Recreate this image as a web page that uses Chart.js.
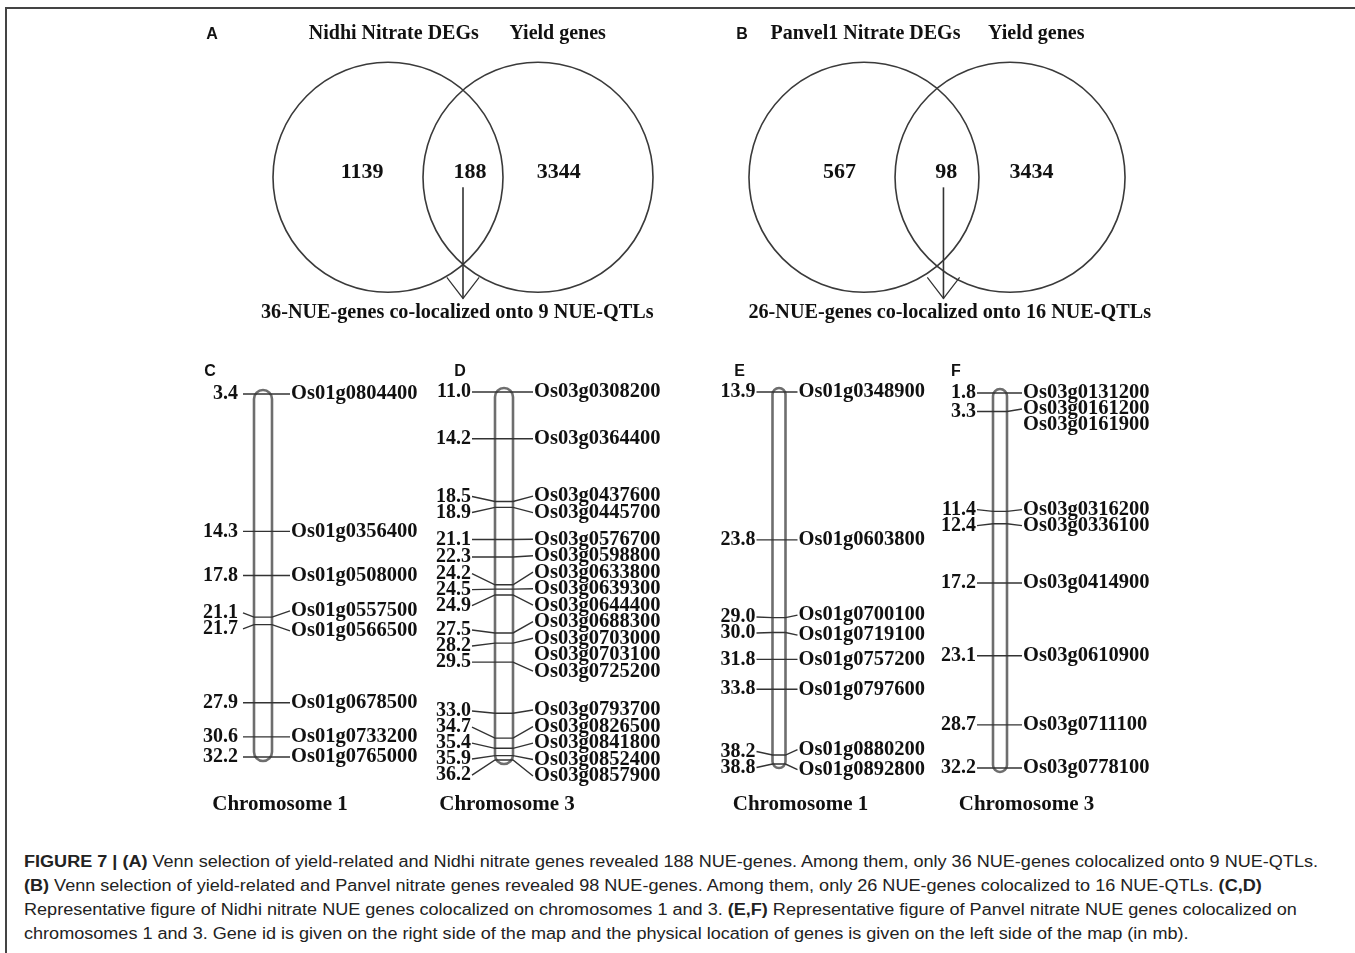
<!DOCTYPE html>
<html>
<head>
<meta charset="utf-8">
<script src="https://cdn.jsdelivr.net/npm/chart.js@4.4.0/dist/chart.umd.min.js"></script>
<style>
html, body { margin: 0; padding: 0; background: #fff; }
body { width: 1355px; height: 953px; position: relative; overflow: hidden; }
.frameTop { position: absolute; left: 5px; top: 7px; width: 1350px; height: 2px; background: #444; }
.frameLeft { position: absolute; left: 5px; top: 7px; width: 2px; height: 946px; background: #444; }
canvas { position: absolute; }
.caption { position: absolute; left: 24px; top: 850px; font-family: "Liberation Sans", Arial, sans-serif;
  font-size: 16px; line-height: 24px; color: #222; transform-origin: 0 0; }
.caption div { white-space: nowrap; }
.caption span { display: inline-block; }
</style>
</head>
<body>
<div class="frameTop"></div>
<div class="frameLeft"></div>

<canvas id="vennA" width="600" height="320" style="left:163px;top:20px"></canvas>
<canvas id="vennB" width="600" height="320" style="left:637px;top:20px"></canvas>
<canvas id="chrC" width="340" height="470" style="left:93px;top:355px"></canvas>
<canvas id="chrD" width="340" height="470" style="left:334px;top:355px"></canvas>
<canvas id="chrE" width="340" height="470" style="left:609px;top:355px"></canvas>
<canvas id="chrF" width="340" height="470" style="left:830px;top:355px"></canvas>

<div class="caption" id="cap">
<div><span id="l1"><b>FIGURE 7 | (A)</b> Venn selection of yield-related and Nidhi nitrate genes revealed 188 NUE-genes. Among them, only 36 NUE-genes colocalized onto 9 NUE-QTLs.</span></div>
<div><span><b>(B)</b> Venn selection of yield-related and Panvel nitrate genes revealed 98 NUE-genes. Among them, only 26 NUE-genes colocalized to 16 NUE-QTLs. <b>(C,D)</b></span></div>
<div><span>Representative figure of Nidhi nitrate NUE genes colocalized on chromosomes 1 and 3. <b>(E,F)</b> Representative figure of Panvel nitrate NUE genes colocalized on</span></div>
<div><span>chromosomes 1 and 3. Gene id is given on the right side of the map and the physical location of genes is given on the left side of the map (in mb).</span></div>
</div>

<script>
// Venn A / B
const setsA = ['Nidhi Nitrate DEGs', 'Yield genes']
const countsA = [1139, 188, 3344]
const resultA = '36-NUE-genes co-localized onto 9 NUE-QTLs'
const setsB = ['Panvel1 Nitrate DEGs', 'Yield genes']
const countsB = [567, 98, 3434]
const resultB = '26-NUE-genes co-localized onto 16 NUE-QTLs'

// chromosome maps, positions in mb
const posC = [3.4, 14.3, 17.8, 21.1, 21.7, 27.9, 30.6, 32.2]
const genesC = ['Os01g0804400', 'Os01g0356400', 'Os01g0508000', 'Os01g0557500', 'Os01g0566500', 'Os01g0678500', 'Os01g0733200', 'Os01g0765000']
const posD = [11.0, 14.2, 18.5, 18.9, 21.1, 22.3, 24.2, 24.5, 24.9, 27.5, 28.2, 28.2, 29.5, 33.0, 34.7, 35.4, 35.9, 36.2]
const genesD = ['Os03g0308200', 'Os03g0364400', 'Os03g0437600', 'Os03g0445700', 'Os03g0576700', 'Os03g0598800', 'Os03g0633800', 'Os03g0639300', 'Os03g0644400',
    'Os03g0688300', 'Os03g0703000', 'Os03g0703100', 'Os03g0725200', 'Os03g0793700', 'Os03g0826500', 'Os03g0841800', 'Os03g0852400', 'Os03g0857900']
const posE = [13.9, 23.8, 29.0, 30.0, 31.8, 33.8, 38.2, 38.8]
const genesE = ['Os01g0348900', 'Os01g0603800', 'Os01g0700100', 'Os01g0719100', 'Os01g0757200', 'Os01g0797600', 'Os01g0880200', 'Os01g0892800']
const posF = [1.8, 3.3, 3.3, 11.4, 12.4, 17.2, 23.1, 28.7, 32.2]
const genesF = ['Os03g0131200', 'Os03g0161200', 'Os03g0161900', 'Os03g0316200', 'Os03g0336100', 'Os03g0414900', 'Os03g0610900', 'Os03g0711100', 'Os03g0778100']

const SERIF = '"Liberation Serif", "Times New Roman", serif'
const SANS = '"Liberation Sans", Arial, sans-serif'
const INK = '#111'

// push labels apart (centred on their ticks), never above minY
function spread(ys, gap, minY) {
    let groups = []
    ys.forEach(y => {
        groups.push({ sum: y, n: 1, top: Math.max(minY, y) })
        while (groups.length > 1) {
            let b = groups[groups.length - 1]
            let a = groups[groups.length - 2]
            if (a.top + a.n * gap <= b.top) break
            a.sum += b.sum
            a.n += b.n
            a.top = Math.max(minY, a.sum / a.n - (a.n - 1) * gap / 2)
            groups.pop()
        }
    })
    let out = []
    groups.forEach(g => { for (let k = 0; k < g.n; k++) out.push(g.top + k * gap) })
    return out
}

function vennChart(id, sets, counts, result, L) {
    const vennText = {
        id: 'vennText',
        afterDatasetsDraw(chart) {
            const { ctx, scales: { x, y } } = chart
            ctx.save()
            ctx.fillStyle = INK
            ctx.textAlign = 'center'
            ctx.textBaseline = 'middle'
            ctx.font = 'bold 16px ' + SANS
            ctx.fillText(L.letter, x.getPixelForValue(L.letterX), y.getPixelForValue(L.headY))
            ctx.font = 'bold 20px ' + SERIF
            sets.forEach((s, i) => ctx.fillText(s, x.getPixelForValue(L.headX[i]), y.getPixelForValue(L.headY)))
            ctx.font = 'bold 22px ' + SERIF
            counts.forEach((c, i) => ctx.fillText(String(c), x.getPixelForValue(L.countX[i]), y.getPixelForValue(L.countY)))
            ctx.font = 'bold 20.2px ' + SERIF
            ctx.fillText(result, x.getPixelForValue(L.resultX), y.getPixelForValue(L.resultY))

            // arrow from the overlap down to the result
            let ax = x.getPixelForValue(L.arrowX)
            let tipY = y.getPixelForValue(-1.05)
            ctx.strokeStyle = '#333'
            ctx.lineWidth = 1.6
            ctx.beginPath()
            ctx.moveTo(ax, y.getPixelForValue(-0.087))
            ctx.lineTo(ax, tipY)
            ctx.stroke()
            ctx.lineWidth = 1.2
            ctx.beginPath()
            ctx.moveTo(x.getPixelForValue(L.arrowX - 0.14), y.getPixelForValue(-0.867))
            ctx.lineTo(ax, tipY)
            ctx.lineTo(x.getPixelForValue(L.arrowX + 0.14), y.getPixelForValue(-0.867))
            ctx.stroke()
            ctx.restore()
        }
    }
    return new Chart(document.getElementById(id), {
        type: 'bubble',
        data: {
            datasets: [{
                label: sets.join(' / '),
                data: [{ x: -L.sep, y: 0 }, { x: L.sep, y: 0 }],
                radius: 115,
                hoverRadius: 0,
                backgroundColor: 'rgba(0,0,0,0)',
                borderColor: '#3a3a3a',
                borderWidth: 1.6,
                clip: false
            }]
        },
        options: {
            responsive: false, animation: false, events: [], devicePixelRatio: 1,
            layout: { autoPadding: false, padding: 0 },
            scales: {
                x: { type: 'linear', min: -2.6, max: 2.6, display: false },
                y: { type: 'linear', min: -1.41, max: 1.363, display: false }
            },
            plugins: { legend: { display: false }, tooltip: { enabled: false } }
        },
        plugins: [vennText]
    })
}

vennChart('vennA', setsA, countsA, resultA, {
    letter: 'A', letterX: -2.175, sep: 0.65, headY: 1.239, headX: [-0.6, 0.82],
    countY: 0.043, countX: [-0.875, 0.06, 0.83], arrowX: 0, resultX: -0.05, resultY: -1.178
})
vennChart('vennB', setsB, countsB, resultB, {
    letter: 'B', letterX: -1.69, sep: 0.633, headY: 1.239, headX: [-0.62, 0.86],
    countY: 0.043, countX: [-0.845, 0.08, 0.82], arrowX: 0.056, resultX: 0.11, resultY: -1.178
})

function chromChart(id, letter, title, pos, genes, st) {
    const chromDraw = {
        id: 'chromDraw',
        afterDatasetsDraw(chart) {
            const { ctx, scales: { x, y } } = chart
            let cx = x.getPixelForValue(0)
            let bl = cx - st.half, br = cx + st.half
            let ticks = pos.map(p => y.getPixelForValue(p))
            let top = ticks[0] - 4, bot = ticks[ticks.length - 1] + 4

            ctx.save()
            // chromosome body
            ctx.beginPath()
            ctx.roundRect(bl, top, br - bl, bot - top, st.half)
            ctx.fillStyle = '#fff'
            ctx.fill()
            ctx.lineWidth = 2.6
            ctx.strokeStyle = '#6e6e6e'
            ctx.stroke()

            let uniq = [...new Set(pos)]
            let uy = uniq.map(p => y.getPixelForValue(p))
            let ly = spread(uy, 16, uy[0])
            let gy = spread(ticks, st.gap, ticks[0])

            ctx.strokeStyle = '#333'
            ctx.lineWidth = 1.4
            uniq.forEach((p, i) => {
                let g = pos.indexOf(p)
                ctx.beginPath()
                ctx.moveTo(cx + st.left, ly[i])
                ctx.lineTo(bl, uy[i])
                ctx.lineTo(br, uy[i])
                ctx.lineTo(cx + st.right, gy[g])
                ctx.stroke()
            })

            ctx.fillStyle = INK
            ctx.textBaseline = 'middle'
            ctx.font = 'bold 20px ' + SERIF
            ctx.textAlign = 'right'
            uniq.forEach((p, i) => ctx.fillText(p.toFixed(1), cx + st.left - st.numGap, ly[i]))
            ctx.font = 'bold 20.5px ' + SERIF
            ctx.textAlign = 'left'
            genes.forEach((gname, i) => ctx.fillText(gname, cx + st.right + 1, gy[i]))

            ctx.textAlign = 'center'
            ctx.font = 'bold 21px ' + SERIF
            ctx.fillText(title, cx + st.titleDx, 450)
            ctx.font = 'bold 16px ' + SANS
            ctx.fillText(letter, cx + st.letterDx, 17)
            ctx.restore()
        }
    }
    return new Chart(document.getElementById(id), {
        type: 'scatter',
        data: { datasets: [{ data: pos.map(p => ({ x: 0, y: p })), pointRadius: 0 }] },
        options: {
            responsive: false, animation: false, events: [], devicePixelRatio: 1,
            layout: { autoPadding: false, padding: { top: st.padTop, bottom: st.padBottom, left: 0, right: 0 } },
            scales: {
                x: { type: 'linear', min: -1, max: 1, display: false },
                y: { type: 'linear', reverse: true, min: pos[0], max: pos[pos.length - 1], display: false }
            },
            plugins: { legend: { display: false }, tooltip: { enabled: false } }
        },
        plugins: [chromDraw]
    })
}

chromChart('chrC', 'C', 'Chromosome 1', posC, genesC,
    { half: 9, left: -20, right: 27, numGap: 5, gap: 20, titleDx: 17, letterDx: -53, padTop: 39, padBottom: 68 })
chromChart('chrD', 'D', 'Chromosome 3', posD, genesD,
    { half: 9, left: -32, right: 29, numGap: 1, gap: 16.5, titleDx: 3, letterDx: -44, padTop: 37, padBottom: 65 })
chromChart('chrE', 'E', 'Chromosome 1', posE, genesE,
    { half: 6.5, left: -22.5, right: 18.5, numGap: 1, gap: 20, titleDx: 21.5, letterDx: -39.5, padTop: 37, padBottom: 61 })
chromChart('chrF', 'F', 'Chromosome 3', posF, genesF,
    { half: 7, left: -23, right: 22, numGap: 1, gap: 16, titleDx: 26.5, letterDx: -44, padTop: 38, padBottom: 57 })

// squeeze the caption to the width of the original lines
let w1 = document.getElementById('l1').getBoundingClientRect().width
document.getElementById('cap').style.transform = 'scaleX(' + (1294 / w1) + ')'
</script>
</body>
</html>
